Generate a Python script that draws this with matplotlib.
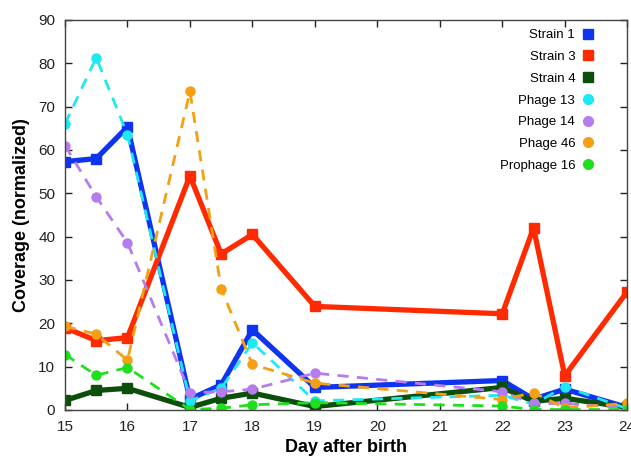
import matplotlib.pyplot as plt
from matplotlib.lines import Line2D

plt.rcParams['font.family'] = ['Liberation Sans', 'DejaVu Sans']

# Days sampled
days = [15, 15.5, 16, 17, 17.5, 18, 19, 22, 22.5, 23, 24]

# Coverage values
strain1 = [57.3, 58.0, 65.3, 2.5, 5.8, 18.5, 5.2, 6.8, 2.5, 4.8, 0.6]
strain3 = [19.0, 16.0, 16.7, 54.0, 36.0, 40.5, 23.9, 22.2, 42.0, 7.9, 27.3]
strain4 = [2.2, 4.5, 5.0, 0.6, 2.7, 3.9, 0.8, 5.2, 2.0, 2.7, 0.6]
phage13 = [66.0, 81.3, 63.5, 2.1, 5.0, 15.5, 2.1, 3.4, 1.3, 5.4, 0.3]
phage14 = [61.0, 49.2, 38.6, 4.0, 4.2, 4.8, 8.5, 4.2, 1.5, 1.5, 0.5]
phage46 = [19.3, 17.5, 11.5, 73.5, 28.0, 10.5, 6.2, 2.4, 4.0, 0.5, 1.5]
prophage16 = [12.8, 8.0, 9.8, 0.1, 0.4, 1.2, 1.7, 0.9, 0.1, 0.1, 0.1]

xticks = list(range(15, 25))
yticks = list(range(0, 91, 10))

c_s1 = '#0f34f0'
c_s3 = '#ff2a00'
c_s4 = '#0b4f0b'
c_p13 = '#1ee8f2'
c_p14 = '#b57cee'
c_p46 = '#f5a012'
c_pp16 = '#1ee01e'

fig = plt.figure(figsize=(6.31, 4.63), dpi=100)
ax = fig.add_axes([0.103, 0.1145, 0.891, 0.8425])

# Strains: thick solid lines with squares
ax.plot(days, strain1, '-', color=c_s1, lw=3.8, marker='s', ms=7)
ax.plot(days, strain3, '-', color=c_s3, lw=3.8, marker='s', ms=7)
ax.plot(days, strain4, '-', color=c_s4, lw=3.8, marker='s', ms=7)

# Phages: dashed lines with circles
ax.plot(days, phage13, '--', color=c_p13, lw=2, marker='o', ms=6.5, dashes=(4, 3))
ax.plot(days, phage14, '--', color=c_p14, lw=2, marker='o', ms=6.5, dashes=(4, 3))
ax.plot(days, phage46, '--', color=c_p46, lw=2, marker='o', ms=6.5, dashes=(4, 3))
ax.plot(days, prophage16, '--', color=c_pp16, lw=2, marker='o', ms=6.5, dashes=(4, 3))

ax.set_xlim(15, 24)
ax.set_ylim(0, 90)
ax.set_xticks(xticks)
ax.set_yticks(yticks)
ax.tick_params(direction='in', top=True, right=True, length=5, width=1,
               labelsize=11, pad=7, colors='#222222')
for s in ax.spines.values():
    s.set_color('#444444')
    s.set_linewidth(1)

ax.set_xlabel('Day after birth', fontsize=13, fontweight='bold', labelpad=4)
ax.set_ylabel('Coverage (normalized)', fontsize=13, fontweight='bold', labelpad=6)

handles = [
    Line2D([], [], ls='none', marker='s', ms=7, color=c_s1, label='Strain 1'),
    Line2D([], [], ls='none', marker='s', ms=7, color=c_s3, label='Strain 3'),
    Line2D([], [], ls='none', marker='s', ms=7, color=c_s4, label='Strain 4'),
    Line2D([], [], ls='none', marker='o', ms=7, color=c_p13, label='Phage 13'),
    Line2D([], [], ls='none', marker='o', ms=7, color=c_p14, label='Phage 14'),
    Line2D([], [], ls='none', marker='o', ms=7, color=c_p46, label='Phage 46'),
    Line2D([], [], ls='none', marker='o', ms=7, color=c_pp16, label='Prophage 16'),
]
leg = ax.legend(handles=handles, loc='upper right', frameon=False, markerfirst=False,
                fontsize=9.5, handlelength=1.0, handletextpad=0.5, labelspacing=0.72,
                borderaxespad=0.0, bbox_to_anchor=(0.952, 0.99))

fig.savefig('out.png', dpi=100)
